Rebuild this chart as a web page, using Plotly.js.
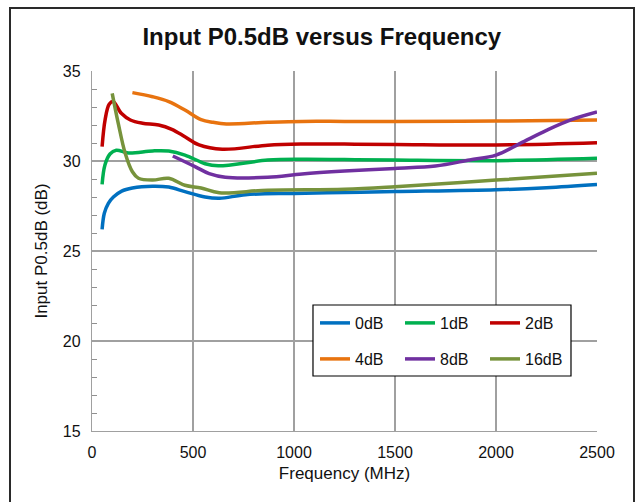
<!DOCTYPE html>
<html>
<head>
<meta charset="utf-8">
<script src="https://cdn.plot.ly/plotly-3.0.1.min.js"></script>
<style>
  html, body { margin: 0; padding: 0; background: #fff; }
  #wrap { position: relative; width: 636px; height: 502px; overflow: hidden; }
  #chart { position: absolute; left: 0; top: 0; width: 636px; height: 502px; }
  #frame { position: absolute; left: 9px; top: 7px; width: 622px; height: 520px;
           border: 2px solid #2a2a2a; pointer-events: none; }
</style>
</head>
<body>
<div id="wrap">
  <div id="chart"></div>
  <div id="frame"></div>
</div>
<script>
// ---- data ----
const seriesNames = ['0dB', '1dB', '2dB', '4dB', '8dB', '16dB'];

const freq0dB = [50, 61, 81, 106, 147, 200, 300, 380, 460, 560, 632, 760, 1000, 1250, 1500, 2000, 2250, 2500];
const p0dB    = [26.2, 27.1, 27.65, 28.0, 28.33, 28.5, 28.6, 28.55, 28.3, 28.0, 27.93, 28.13, 28.2, 28.25, 28.3, 28.4, 28.52, 28.7];

const freq1dB = [50, 64, 89, 120, 180, 300, 380, 460, 560, 625, 870, 1040, 1250, 1500, 2000, 2500];
const p1dB    = [28.7, 29.78, 30.39, 30.6, 30.45, 30.56, 30.55, 30.33, 29.85, 29.73, 30.05, 30.1, 30.08, 30.05, 30.02, 30.15];

const freq2dB = [50, 65, 85, 105, 145, 190, 250, 330, 395, 460, 530, 645, 870, 1040, 1250, 1500, 2000, 2500];
const p2dB    = [30.8, 32.3, 33.15, 33.3, 32.65, 32.28, 32.1, 32.0, 31.76, 31.35, 30.89, 30.65, 30.88, 30.94, 30.94, 30.92, 30.89, 31.02];

const freq4dB = [200, 300, 380, 460, 540, 600, 665, 870, 1040, 1250, 1500, 2000, 2500];
const p4dB    = [33.8, 33.57, 33.3, 32.83, 32.3, 32.15, 32.06, 32.15, 32.2, 32.2, 32.2, 32.22, 32.28];

const freq8dB = [400, 510, 580, 660, 870, 1040, 1250, 1500, 1700, 1870, 2000, 2120, 2250, 2370, 2500];
const p8dB    = [30.28, 29.69, 29.3, 29.1, 29.1, 29.28, 29.44, 29.59, 29.72, 30.06, 30.33, 30.98, 31.7, 32.28, 32.72];

const freq16dB = [100, 130, 165, 200, 230, 300, 380, 460, 540, 630, 870, 1250, 1500, 2000, 2500];
const p16dB    = [33.76, 32.09, 30.4, 29.4, 29.04, 28.94, 29.04, 28.65, 28.5, 28.24, 28.38, 28.43, 28.57, 28.94, 29.32];

const xRange = [0, 2500];
const yRange = [15, 35];

const colors = ['#0070C0', '#00B050', '#C00000', '#E8730F', '#7030A0', '#77933C'];
const xs = [freq0dB, freq1dB, freq2dB, freq4dB, freq8dB, freq16dB];
const ys = [p0dB, p1dB, p2dB, p4dB, p8dB, p16dB];

const traces = seriesNames.map((name, i) => ({
  type: 'scatter',
  mode: 'lines',
  name: name,
  x: xs[i],
  y: ys[i],
  line: { color: colors[i], width: 3.5, shape: 'spline', smoothing: 1 },
  legend: i < 3 ? 'legend' : 'legend2',
  hoverinfo: 'skip'
}));

const FONT = '"Liberation Sans", Arial, sans-serif';
const legendCommon = {
  orientation: 'h',
  bgcolor: 'rgba(0,0,0,0)',
  borderwidth: 0,
  font: { family: FONT, size: 16, color: '#111' },
  xanchor: 'left',
  yanchor: 'middle',
  entrywidth: 40,
  entrywidthmode: 'pixels',
  tracegroupgap: 0,
  itemclick: false,
  itemdoubleclick: false
};

const layout = {
  width: 636,
  height: 502,
  margin: { l: 92, r: 39, t: 71, b: 71, autoexpand: false },
  paper_bgcolor: '#ffffff',
  plot_bgcolor: '#ffffff',
  font: { family: FONT, size: 16, color: '#111' },
  title: {
    text: '<b>Input P0.5dB versus Frequency</b>',
    font: { family: FONT, size: 24, color: '#111' },
    x: 0.506, xanchor: 'center',
    y: 0.928, yanchor: 'middle'
  },
  xaxis: {
    range: xRange,
    tickmode: 'linear', tick0: 0, dtick: 500,
    showgrid: true, gridcolor: '#a0a0a0', gridwidth: 1.2,
    showline: true, linecolor: '#a0a0a0', linewidth: 1.2,
    ticks: '', zeroline: false,
    ticklabelstandoff: 7,
    tickfont: { family: FONT, size: 16, color: '#111' },
    title: { text: 'Frequency (MHz)', font: { family: FONT, size: 17, color: '#111' }, standoff: 6 },
    automargin: false,
    fixedrange: true
  },
  yaxis: {
    range: yRange,
    tickmode: 'linear', tick0: 15, dtick: 5,
    showgrid: true, gridcolor: '#a0a0a0', gridwidth: 1.2,
    showline: true, linecolor: '#a0a0a0', linewidth: 1.2,
    ticks: 'inside', ticklen: 5, tickcolor: '#a0a0a0', tickwidth: 1,
    zeroline: false,
    ticklabelstandoff: 7,
    minor: { dtick: 1, tick0: 15, ticks: 'inside', ticklen: 5, tickcolor: '#909090', tickwidth: 1, showgrid: false },
    tickfont: { family: FONT, size: 16, color: '#111' },
    title: { text: 'Input P0.5dB (dB)', font: { family: FONT, size: 17, color: '#111' }, standoff: 10 },
    automargin: false,
    fixedrange: true
  },
  showlegend: true,
  legend: Object.assign({}, legendCommon, { x: 0.4416, y: 0.30 }),
  legend2: Object.assign({}, legendCommon, { x: 0.4416, y: 0.20 }),
  shapes: [{
    type: 'rect', xref: 'paper', yref: 'paper',
    x0: 0.4376, x1: 0.9485, y0: 0.1528, y1: 0.35,
    line: { color: '#000', width: 1.2 },
    fillcolor: '#ffffff',
    layer: 'above'
  }]
};

Plotly.newPlot('chart', traces, layout, { displayModeBar: false, staticPlot: true });
</script>
</body>
</html>
